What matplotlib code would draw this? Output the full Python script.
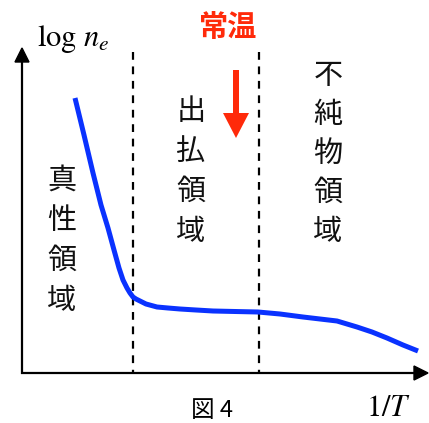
import numpy as np
import matplotlib.pyplot as plt
from matplotlib.patches import FancyArrow

plt.rcParams['font.family'] = ['Noto Sans CJK JP', 'DejaVu Sans']
plt.rcParams['mathtext.fontset'] = 'stix'

# curve (pixel coords, y down)
curve_x = [75, 84, 93, 101, 108, 114, 119, 123, 127, 130, 133, 136, 140, 146, 157, 168, 180,
           196, 213, 235, 258, 280, 303, 320, 337, 347, 357, 372, 387, 403, 418]
curve_y = [98, 135, 173, 205, 228, 250, 268, 280, 288, 293, 297, 299, 301, 304, 307, 308, 309,
           310, 311, 311.5, 312, 314, 317, 319, 321, 324, 327, 332, 338, 345, 351]

boundary_x = [133, 259]
region_labels = ["真性領域", "出払領域", "不純物領域"]
region_pos = [(62, 181), (191, 112), (328, 76)]   # x centre, y of first char
region_step = [40, 40, 39]

fig = plt.figure(figsize=(4.29, 4.23), dpi=100)
ax = fig.add_axes([0, 0, 1, 1])
ax.set_xlim(0, 429)
ax.set_ylim(423, 0)
ax.axis('off')

# axes with arrows
ax.plot([22, 22], [374, 62], color='black', lw=1.6, solid_capstyle='butt')
ax.plot([21, 414], [373, 373], color='black', lw=1.6, solid_capstyle='butt')
ax.fill([15, 22, 29], [62, 48, 62], color='black')
ax.fill([414, 428, 414], [366, 373, 380], color='black')

# boundaries
for bx in boundary_x:
    ax.plot([bx, bx], [52, 373], color='black', lw=1.6, dashes=(3.5, 3))

# curve
ax.plot(curve_x, curve_y, color='#0a32ff', lw=3.6, solid_capstyle='butt',
        solid_joinstyle='round')

# region labels, vertical
for lab, (cx, cy), st in zip(region_labels, region_pos, region_step):
    for i, ch in enumerate(lab):
        ax.text(cx, cy + i * st, ch, fontsize=21, ha='center', va='center', color='#111111')

# room-temperature arrow
ax.text(228, 27, "常温", fontsize=21, fontweight='bold', color='#ff2a0a', ha='center', va='center')
ax.add_patch(FancyArrow(236, 70, 0, 68, width=6, head_width=26, head_length=25,
                        length_includes_head=True, color='#ff2a0a', lw=0))

# axis labels
ax.text(37, 39, r"$\mathrm{log}\ n_e$", fontsize=22, ha='left', va='center')
ax.text(389, 407, r"$1/T$", fontsize=22, ha='center', va='center')
ax.text(212, 399, "図 4", fontsize=17, ha='center', va='top')

fig.savefig("out.png", dpi=100)
